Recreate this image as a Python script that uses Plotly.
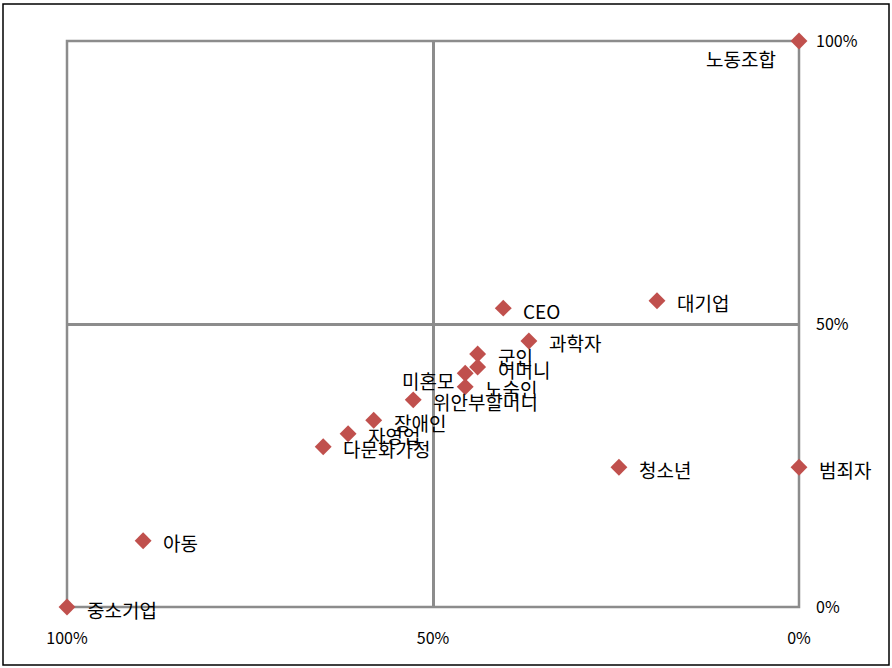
import plotly.graph_objects as go

labels = ["노동조합", "CEO", "대기업", "과학자", "군인", "어머니", "미혼모", "노숙인",
          "위안부할머니", "장애인", "자영업", "다문화가정", "청소년", "범죄자", "아동", "중소기업"]
x_vals = [0, 40.4, 19.4, 36.9, 43.9, 43.9, 45.6, 45.6, 52.7, 58.1, 61.6, 65.0, 24.6, 0, 89.6, 100]
y_vals = [100, 52.8, 54.1, 47.0, 44.7, 42.4, 41.3, 38.9, 36.6, 33.0, 30.6, 28.3, 24.7, 24.7, 11.7, 0]
tick_vals = [0, 50, 100]
tick_text = ["0%", "50%", "100%"]

# label placement (style only): (xanchor, xshift, yshift)
label_pos = {
    "노동조합": ("right", -21, -17),
    "미혼모": ("right", -9, -7),
}
default_pos = ("left", 18, -2)

W, H = 892, 668
L, R, T, B = 67, 93, 41, 61
pw, ph = W - L - R, H - T - B

KFONT = "Noto Sans CJK KR, Malgun Gothic, sans-serif"
grid_col = "#8c8c8c"

fig = go.Figure()
fig.add_trace(go.Scatter(
    x=x_vals, y=y_vals, mode="markers",
    marker=dict(symbol="diamond", size=13, color="#C0504D"),
    cliponaxis=False, hoverinfo="text", text=labels,
))

for lab, xv, yv in zip(labels, x_vals, y_vals):
    anc, xs, ys = label_pos.get(lab, default_pos)
    fig.add_annotation(x=xv, y=yv, text=lab, showarrow=False, xanchor=anc, yanchor="middle",
                       xshift=xs, yshift=ys, font=dict(family=KFONT, size=19, color="#000000"))

# outer border in paper coords
bx0, bx1 = (3 - L) / pw, (889 - L) / pw
by0, by1 = 1 - (665 - T) / ph, 1 - (4 - T) / ph
fig.add_shape(type="rect", xref="paper", yref="paper", x0=bx0, x1=bx1, y0=by0, y1=by1,
              line=dict(color="#000000", width=1.5), layer="below")
# plot box around the plotting area (paper coords are not clipped)
fig.add_shape(type="rect", xref="paper", yref="paper", x0=0, x1=1, y0=0, y1=1,
              line=dict(color=grid_col, width=2.5), layer="below")

axis_common = dict(
    tickvals=tick_vals, ticktext=tick_text,
    showgrid=True, gridcolor=grid_col, gridwidth=2.5,
    showline=False, zeroline=False, ticks="",
    tickfont=dict(family=KFONT, size=16, color="#000000"),
)

fig.update_layout(
    width=W, height=H,
    margin=dict(l=L, r=R, t=T, b=B),
    paper_bgcolor="white", plot_bgcolor="white",
    showlegend=False,
    xaxis=dict(range=[100, 0], ticklabelstandoff=20, **axis_common),
    yaxis=dict(range=[0, 100], side="right", ticklabelstandoff=16, **axis_common),
)

fig.write_html("out.html")
